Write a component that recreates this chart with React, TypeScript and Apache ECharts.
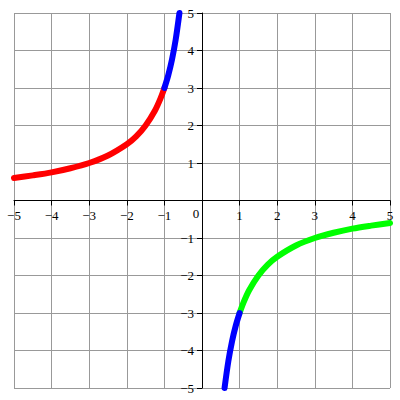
import React, { useEffect, useRef } from "react";
import * as echarts from "echarts";

const redLeft: number[][] = [
  [-5, 0.6], [-4.5, 0.67], [-4, 0.75], [-3.5, 0.86], [-3, 1], [-2.5, 1.2],
  [-2, 1.5], [-1.75, 1.71], [-1.5, 2], [-1.25, 2.4], [-1.1, 2.73], [-1, 3],
];
const blueTop: number[][] = [
  [-1, 3], [-0.9, 3.33], [-0.8, 3.75], [-0.7, 4.29], [-0.6, 5],
];
const greenRight: number[][] = [
  [1, -3], [1.1, -2.73], [1.25, -2.4], [1.5, -2], [1.75, -1.71], [2, -1.5],
  [2.5, -1.2], [3, -1], [3.5, -0.86], [4, -0.75], [4.5, -0.67], [5, -0.6],
];
const blueBottom: number[][] = [
  [0.6, -5], [0.7, -4.29], [0.8, -3.75], [0.9, -3.33], [1, -3],
];

const fmt = (v: number) => (v < 0 ? "\u2212" + Math.abs(v) : String(v));

const GRID = { left: 14, right: 10, top: 13, bottom: 12 };
const W = 400;
const H = 400;

export default function App() {
  const ref = useRef<HTMLDivElement>(null);
  useEffect(() => {
    const chart = echarts.init(ref.current!, undefined, { renderer: "svg" });
    const font = "'Liberation Serif', 'Times New Roman', serif";
    const gw = W - GRID.left - GRID.right;
    const gh = H - GRID.top - GRID.bottom;
    const line = (data: number[][], color: string) => ({
      type: "line",
      data,
      smooth: 0.3,
      symbol: "none",
      clip: false,
      lineStyle: { color, width: 6, cap: "round", join: "round" },
    });
    chart.setOption({
      animation: false,
      backgroundColor: "#fff",
      grid: { ...GRID, containLabel: false, outerBoundsMode: "none" },
      xAxis: {
        type: "value",
        position: "bottom",
        offset: -gh / 2,
        min: -5,
        max: 5,
        interval: 1,
        axisLine: { onZero: false, lineStyle: { color: "#000", width: 1 } },
        axisTick: { show: true, length: 5, lineStyle: { color: "#000" } },
        axisLabel: {
          fontFamily: font,
          fontSize: 13,
          color: "#000",
          margin: 8,
          showMinLabel: true,
          showMaxLabel: true,
          hideOverlap: false,
          formatter: (v: number) => (v === 0 ? "{z|0}" : fmt(v)),
          rich: { z: { fontFamily: font, fontSize: 13, color: "#000", padding: [-2, 12, 0, 0] } },
        },
        splitLine: { show: true, lineStyle: { color: "#999", width: 1 } },
      },
      yAxis: {
        type: "value",
        position: "left",
        offset: -gw / 2,
        min: -5,
        max: 5,
        interval: 1,
        axisLine: { onZero: false, lineStyle: { color: "#000", width: 1 } },
        axisTick: { show: true, length: 5, lineStyle: { color: "#000" } },
        axisLabel: {
          fontFamily: font,
          fontSize: 13,
          color: "#000",
          margin: 8,
          showMinLabel: true,
          showMaxLabel: true,
          hideOverlap: false,
          formatter: (v: number) => (v === 0 ? "" : fmt(v)),
        },
        splitLine: { show: true, lineStyle: { color: "#999", width: 1 } },
      },
      series: [
        line(redLeft, "#ff0000"),
        line(blueTop, "#0000ff"),
        line(greenRight, "#00ff00"),
        line(blueBottom, "#0000ff"),
      ],
    });
    return () => chart.dispose();
  }, []);
  return (
    <div
      ref={ref}
      style={{ position: "fixed", left: 0, top: 0, width: W, height: H }}
    />
  );
}
